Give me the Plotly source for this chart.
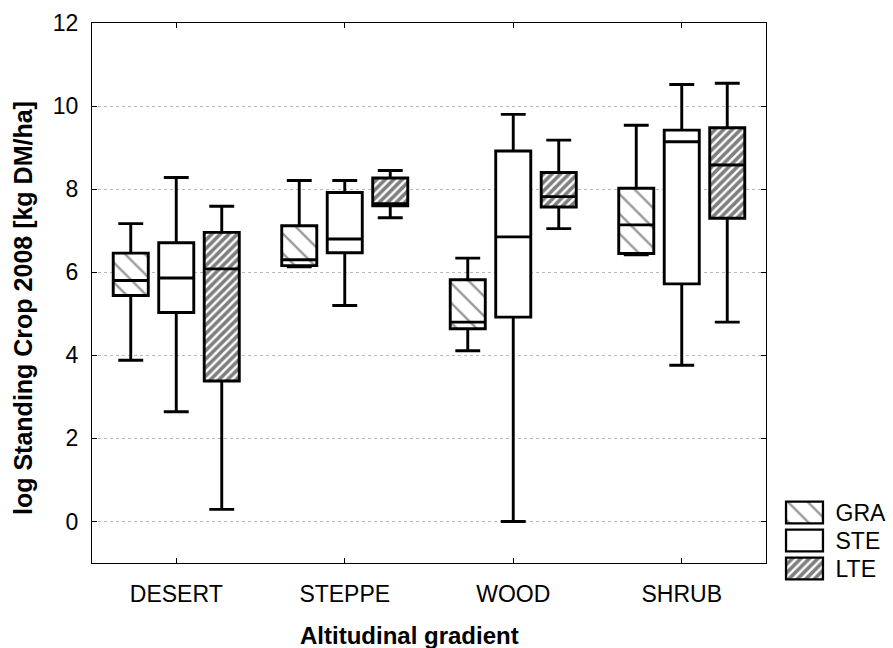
import plotly.graph_objects as go

categories = ["DESERT", "STEPPE", "WOOD", "SHRUB"]
series = ["GRA", "STE", "LTE"]

# per series: values for DESERT, STEPPE, WOOD, SHRUB
lower = {"GRA": [3.88, 6.13, 4.11, 6.42],
         "STE": [2.64, 5.20, 0.00, 3.76],
         "LTE": [0.29, 7.31, 7.05, 4.80]}
q1 = {"GRA": [5.44, 6.16, 4.64, 6.45],
      "STE": [5.03, 6.47, 4.92, 5.72],
      "LTE": [3.38, 7.60, 7.57, 7.30]}
median = {"GRA": [5.80, 6.30, 4.80, 7.14],
          "STE": [5.86, 6.80, 6.85, 9.14],
          "LTE": [6.08, 7.65, 7.82, 8.58]}
q3 = {"GRA": [6.46, 7.12, 5.82, 8.02],
      "STE": [6.71, 7.92, 8.92, 9.42],
      "LTE": [6.96, 8.27, 8.40, 9.48]}
upper = {"GRA": [7.17, 8.21, 6.34, 9.54],
         "STE": [8.28, 8.21, 9.80, 10.52],
         "LTE": [7.59, 8.45, 9.18, 10.55]}

y_ticks = [0, 2, 4, 6, 8, 10, 12]

offsets = {"GRA": -0.27, "STE": 0.0, "LTE": 0.27}
patterns = {
    "GRA": dict(shape="\\", size=14, solidity=0.17, fgcolor="#333333", bgcolor="white"),
    "STE": dict(shape="", bgcolor="white"),
    "LTE": dict(shape="/", size=6, solidity=0.6, fgcolor="black", bgcolor="white"),
}
BOXW = 0.208
FONT = "Arial, Liberation Sans, sans-serif"

fig = go.Figure()

# patterned box fills
for s in series:
    xs = [i + offsets[s] for i in range(len(categories))]
    fig.add_trace(go.Bar(
        x=xs, y=[b - a for a, b in zip(q1[s], q3[s])], base=q1[s],
        width=BOXW, marker=dict(color="white", pattern=patterns[s], line=dict(width=0)),
        showlegend=False, hoverinfo="skip", xaxis="x", yaxis="y"))

# box outlines, medians and whiskers
for s in series:
    xs = [i + offsets[s] for i in range(len(categories))]
    fig.add_trace(go.Box(
        x=xs, q1=q1[s], median=median[s], q3=q3[s],
        lowerfence=lower[s], upperfence=upper[s],
        width=BOXW, whiskerwidth=0.71, boxpoints=False,
        fillcolor="rgba(0,0,0,0)", line=dict(color="black", width=2.9),
        name=s, showlegend=False, xaxis="x", yaxis="y"))

# legend swatches on a small auxiliary axis
for k, s in enumerate(series):
    fig.add_trace(go.Bar(
        x=[1], y=[k], base=0, orientation="h", width=0.78,
        marker=dict(color="white", pattern=patterns[s], line=dict(color="black", width=2.4)),
        showlegend=False, hoverinfo="skip", xaxis="x2", yaxis="y2"))

L, R, T, B = 92, 0, 23, 60
W, H = 893, 648
pw, ph = W - L - R, H - T - B
def px_x(p):
    return (p - L) / pw
def px_y(p):
    return (H - B - p) / ph

fig.update_layout(
    width=W, height=H,
    margin=dict(l=L, r=R, t=T, b=B),
    paper_bgcolor="white", plot_bgcolor="white",
    barmode="overlay", boxmode="overlay",
    font=dict(family=FONT, size=23, color="black"),
    showlegend=False,
    xaxis=dict(domain=[0, px_x(766)], range=[-0.5, 3.5],
               tickvals=list(range(len(categories))), ticktext=categories,
               ticks="inside", ticklen=5, tickcolor="black", mirror="ticks",
               showline=True, linecolor="black", linewidth=1.2,
               showgrid=False, zeroline=False, ticklabelstandoff=10,
               tickfont=dict(size=23, family=FONT)),
    yaxis=dict(domain=[px_y(563), 1], range=[-1, 12], tickvals=y_ticks,
               ticks="inside", ticklen=5, tickcolor="black", mirror="ticks",
               showline=True, linecolor="black", linewidth=1.2,
               showgrid=True, gridcolor="#b8b8b8", griddash="dot", gridwidth=1,
               zeroline=False, ticklabelstandoff=8,
               tickfont=dict(size=23, family=FONT)),
    xaxis2=dict(domain=[px_x(784.5), px_x(824.5)], range=[-0.04, 1.04],
                anchor="y2", visible=False, fixedrange=True),
    yaxis2=dict(domain=[px_y(582.5), px_y(498.5)], range=[2.5, -0.5],
                anchor="x2", side="right", tickvals=[0, 1, 2], ticktext=series,
                showgrid=False, zeroline=False, showline=False, ticks="",
                ticklabelstandoff=10, tickfont=dict(size=23, family=FONT)),
    annotations=[
        dict(text="<b>Altitudinal gradient</b>", xref="paper", yref="paper",
             x=px_x(409.5), y=px_y(635), xanchor="center", yanchor="middle",
             showarrow=False, font=dict(size=24, family=FONT)),
        dict(text="<b>log Standing Crop 2008 [kg DM/ha]</b>", xref="paper", yref="paper",
             x=px_x(23), y=px_y(308), xanchor="center", yanchor="middle",
             textangle=-90, showarrow=False, font=dict(size=25, family=FONT)),
    ],
)

fig.write_html("out.html")
